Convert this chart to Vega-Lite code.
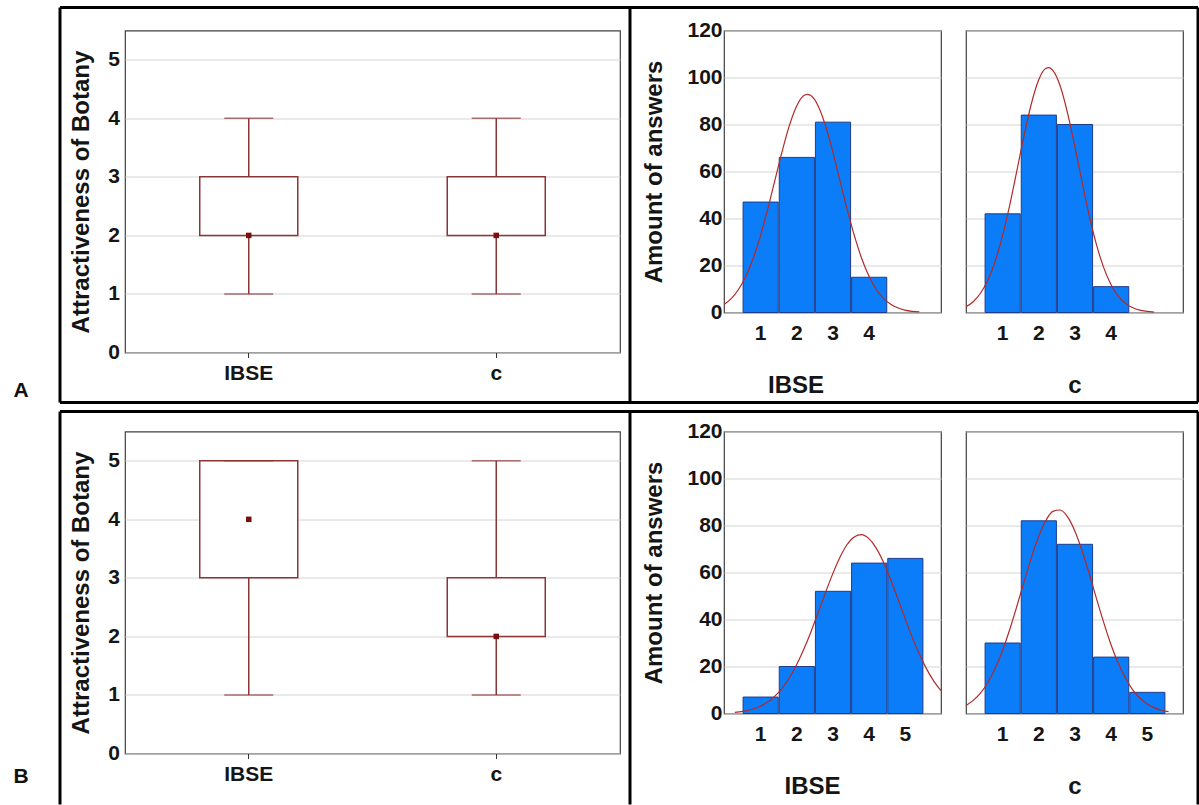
{
  "$schema": "https://vega.github.io/schema/vega-lite/v6.json",
  "autosize": {"type": "pad"},
  "padding": {"left": 12, "top": 4.5, "right": 0, "bottom": 0},
  "background": "white",
  "bounds": "full",
  "spacing": 3,
  "config": {
    "view": {"stroke": "#404040", "strokeWidth": 1.2},
    "axis": {"labelFont": "Liberation Sans", "titleFont": "Liberation Sans", "labelFontWeight": "bold", "titleFontWeight": "bold", "labelFontSize": 21, "titleFontSize": 24, "labelColor": "#151515", "titleColor": "#151515", "domain": false, "ticks": false, "gridColor": "#d4d4d4", "gridWidth": 1},
    "axisX": {"grid": false},
    "axisY": {"grid": true},
    "text": {"font": "Liberation Sans"}
  },
  "datasets": {
    "box": [
      {"row": "A", "group": "IBSE", "lo": 1, "q1": 2, "median": 2, "q3": 3, "hi": 4},
      {"row": "A", "group": "c", "lo": 1, "q1": 2, "median": 2, "q3": 3, "hi": 4},
      {"row": "B", "group": "IBSE", "lo": 1, "q1": 3, "median": 4, "q3": 5, "hi": 5},
      {"row": "B", "group": "c", "lo": 1, "q1": 2, "median": 2, "q3": 3, "hi": 5}
    ],
    "bars": [
      {"row": "A", "group": "IBSE", "bin_start": 0.5, "bin_end": 1.5, "count": 47},
      {"row": "A", "group": "IBSE", "bin_start": 1.5, "bin_end": 2.5, "count": 66},
      {"row": "A", "group": "IBSE", "bin_start": 2.5, "bin_end": 3.5, "count": 81},
      {"row": "A", "group": "IBSE", "bin_start": 3.5, "bin_end": 4.5, "count": 15},
      {"row": "A", "group": "c", "bin_start": 0.5, "bin_end": 1.5, "count": 42},
      {"row": "A", "group": "c", "bin_start": 1.5, "bin_end": 2.5, "count": 84},
      {"row": "A", "group": "c", "bin_start": 2.5, "bin_end": 3.5, "count": 80},
      {"row": "A", "group": "c", "bin_start": 3.5, "bin_end": 4.5, "count": 11},
      {"row": "B", "group": "IBSE", "bin_start": 0.5, "bin_end": 1.5, "count": 7},
      {"row": "B", "group": "IBSE", "bin_start": 1.5, "bin_end": 2.5, "count": 20},
      {"row": "B", "group": "IBSE", "bin_start": 2.5, "bin_end": 3.5, "count": 52},
      {"row": "B", "group": "IBSE", "bin_start": 3.5, "bin_end": 4.5, "count": 64},
      {"row": "B", "group": "IBSE", "bin_start": 4.5, "bin_end": 5.5, "count": 66},
      {"row": "B", "group": "c", "bin_start": 0.5, "bin_end": 1.5, "count": 30},
      {"row": "B", "group": "c", "bin_start": 1.5, "bin_end": 2.5, "count": 82},
      {"row": "B", "group": "c", "bin_start": 2.5, "bin_end": 3.5, "count": 72},
      {"row": "B", "group": "c", "bin_start": 3.5, "bin_end": 4.5, "count": 24},
      {"row": "B", "group": "c", "bin_start": 4.5, "bin_end": 5.5, "count": 9}
    ],
    "curve": [
      {"row": "A", "group": "IBSE", "x": 0, "y": 3.4}, {"row": "A", "group": "IBSE", "x": 0.2, "y": 5.9}, {"row": "A", "group": "IBSE", "x": 0.4, "y": 9.8}, {"row": "A", "group": "IBSE", "x": 0.6, "y": 15.3}, {"row": "A", "group": "IBSE", "x": 0.8, "y": 22.8}, {"row": "A", "group": "IBSE", "x": 1, "y": 32.2}, {"row": "A", "group": "IBSE", "x": 1.2, "y": 43.5}, {"row": "A", "group": "IBSE", "x": 1.4, "y": 55.8}, {"row": "A", "group": "IBSE", "x": 1.6, "y": 68.1}, {"row": "A", "group": "IBSE", "x": 1.8, "y": 79.2}, {"row": "A", "group": "IBSE", "x": 2, "y": 87.6}, {"row": "A", "group": "IBSE", "x": 2.2, "y": 92.2}, {"row": "A", "group": "IBSE", "x": 2.3, "y": 92.8}, {"row": "A", "group": "IBSE", "x": 2.4, "y": 92.3}, {"row": "A", "group": "IBSE", "x": 2.6, "y": 88.0}, {"row": "A", "group": "IBSE", "x": 2.8, "y": 79.8}, {"row": "A", "group": "IBSE", "x": 3, "y": 68.9}, {"row": "A", "group": "IBSE", "x": 3.2, "y": 56.5}, {"row": "A", "group": "IBSE", "x": 3.4, "y": 44.2}, {"row": "A", "group": "IBSE", "x": 3.6, "y": 32.9}, {"row": "A", "group": "IBSE", "x": 3.8, "y": 23.3}, {"row": "A", "group": "IBSE", "x": 4, "y": 15.7}, {"row": "A", "group": "IBSE", "x": 4.2, "y": 10.0}, {"row": "A", "group": "IBSE", "x": 4.4, "y": 6.1}, {"row": "A", "group": "IBSE", "x": 4.6, "y": 3.6}, {"row": "A", "group": "IBSE", "x": 4.8, "y": 2.0}, {"row": "A", "group": "IBSE", "x": 5, "y": 1.0}, {"row": "A", "group": "IBSE", "x": 5.2, "y": 0.5}, {"row": "A", "group": "IBSE", "x": 5.4, "y": 0.3},
      {"row": "A", "group": "c", "x": 0, "y": 2.5}, {"row": "A", "group": "c", "x": 0.2, "y": 4.6}, {"row": "A", "group": "c", "x": 0.4, "y": 8.2}, {"row": "A", "group": "c", "x": 0.6, "y": 13.6}, {"row": "A", "group": "c", "x": 0.8, "y": 21.5}, {"row": "A", "group": "c", "x": 1, "y": 32.1}, {"row": "A", "group": "c", "x": 1.2, "y": 45.1}, {"row": "A", "group": "c", "x": 1.4, "y": 59.8}, {"row": "A", "group": "c", "x": 1.6, "y": 74.9}, {"row": "A", "group": "c", "x": 1.8, "y": 88.4}, {"row": "A", "group": "c", "x": 2, "y": 98.6}, {"row": "A", "group": "c", "x": 2.2, "y": 103.8}, {"row": "A", "group": "c", "x": 2.3, "y": 104.2}, {"row": "A", "group": "c", "x": 2.4, "y": 103.0}, {"row": "A", "group": "c", "x": 2.6, "y": 96.6}, {"row": "A", "group": "c", "x": 2.8, "y": 85.4}, {"row": "A", "group": "c", "x": 3, "y": 71.3}, {"row": "A", "group": "c", "x": 3.2, "y": 56.2}, {"row": "A", "group": "c", "x": 3.4, "y": 41.7}, {"row": "A", "group": "c", "x": 3.6, "y": 29.3}, {"row": "A", "group": "c", "x": 3.8, "y": 19.4}, {"row": "A", "group": "c", "x": 4, "y": 12.1}, {"row": "A", "group": "c", "x": 4.2, "y": 7.1}, {"row": "A", "group": "c", "x": 4.4, "y": 4.0}, {"row": "A", "group": "c", "x": 4.6, "y": 2.1}, {"row": "A", "group": "c", "x": 4.8, "y": 1.0}, {"row": "A", "group": "c", "x": 5, "y": 0.5}, {"row": "A", "group": "c", "x": 5.2, "y": 0.2},
      {"row": "B", "group": "IBSE", "x": 0.3, "y": 0.5}, {"row": "B", "group": "IBSE", "x": 0.6, "y": 1.1}, {"row": "B", "group": "IBSE", "x": 0.8, "y": 1.9}, {"row": "B", "group": "IBSE", "x": 1, "y": 3.1}, {"row": "B", "group": "IBSE", "x": 1.2, "y": 4.8}, {"row": "B", "group": "IBSE", "x": 1.4, "y": 7.3}, {"row": "B", "group": "IBSE", "x": 1.6, "y": 10.6}, {"row": "B", "group": "IBSE", "x": 1.8, "y": 15.0}, {"row": "B", "group": "IBSE", "x": 2, "y": 20.5}, {"row": "B", "group": "IBSE", "x": 2.2, "y": 27.1}, {"row": "B", "group": "IBSE", "x": 2.4, "y": 34.6}, {"row": "B", "group": "IBSE", "x": 2.6, "y": 42.8}, {"row": "B", "group": "IBSE", "x": 2.8, "y": 51.2}, {"row": "B", "group": "IBSE", "x": 3, "y": 59.2}, {"row": "B", "group": "IBSE", "x": 3.2, "y": 66.3}, {"row": "B", "group": "IBSE", "x": 3.4, "y": 71.8}, {"row": "B", "group": "IBSE", "x": 3.6, "y": 75.1}, {"row": "B", "group": "IBSE", "x": 3.8, "y": 76.1}, {"row": "B", "group": "IBSE", "x": 4, "y": 74.5}, {"row": "B", "group": "IBSE", "x": 4.2, "y": 70.6}, {"row": "B", "group": "IBSE", "x": 4.4, "y": 64.7}, {"row": "B", "group": "IBSE", "x": 4.6, "y": 57.3}, {"row": "B", "group": "IBSE", "x": 4.8, "y": 49.1}, {"row": "B", "group": "IBSE", "x": 5, "y": 40.7}, {"row": "B", "group": "IBSE", "x": 5.2, "y": 32.6}, {"row": "B", "group": "IBSE", "x": 5.4, "y": 25.3}, {"row": "B", "group": "IBSE", "x": 5.6, "y": 19.0}, {"row": "B", "group": "IBSE", "x": 5.8, "y": 13.8}, {"row": "B", "group": "IBSE", "x": 6, "y": 9.7},
      {"row": "B", "group": "c", "x": 0, "y": 3.4}, {"row": "B", "group": "c", "x": 0.2, "y": 5.6}, {"row": "B", "group": "c", "x": 0.4, "y": 8.7}, {"row": "B", "group": "c", "x": 0.6, "y": 13.1}, {"row": "B", "group": "c", "x": 0.8, "y": 19.0}, {"row": "B", "group": "c", "x": 1, "y": 26.4}, {"row": "B", "group": "c", "x": 1.2, "y": 35.3}, {"row": "B", "group": "c", "x": 1.4, "y": 45.3}, {"row": "B", "group": "c", "x": 1.6, "y": 55.8}, {"row": "B", "group": "c", "x": 1.8, "y": 66.0}, {"row": "B", "group": "c", "x": 2, "y": 75.0}, {"row": "B", "group": "c", "x": 2.2, "y": 81.9}, {"row": "B", "group": "c", "x": 2.4, "y": 86.0}, {"row": "B", "group": "c", "x": 2.6, "y": 86.6}, {"row": "B", "group": "c", "x": 2.8, "y": 83.9}, {"row": "B", "group": "c", "x": 3, "y": 78.0}, {"row": "B", "group": "c", "x": 3.2, "y": 69.7}, {"row": "B", "group": "c", "x": 3.4, "y": 59.8}, {"row": "B", "group": "c", "x": 3.6, "y": 49.3}, {"row": "B", "group": "c", "x": 3.8, "y": 39.1}, {"row": "B", "group": "c", "x": 4, "y": 29.7}, {"row": "B", "group": "c", "x": 4.2, "y": 21.7}, {"row": "B", "group": "c", "x": 4.4, "y": 15.3}, {"row": "B", "group": "c", "x": 4.6, "y": 10.3}, {"row": "B", "group": "c", "x": 4.8, "y": 6.7}, {"row": "B", "group": "c", "x": 5, "y": 4.2}, {"row": "B", "group": "c", "x": 5.2, "y": 2.5}, {"row": "B", "group": "c", "x": 5.4, "y": 1.4}, {"row": "B", "group": "c", "x": 5.6, "y": 0.8}
    ]
  },
  "vconcat": [
    {
      "hconcat": [
        {
          "width": 495, "height": 322,
          "resolve": {"scale": {"x": "independent", "y": "independent"}},
          "layer": [
            {
              "data": {"name": "box"},
              "transform": [{"filter": "datum.row === 'A'"}],
              "encoding": {"x": {"field": "group", "type": "nominal", "sort": ["IBSE", "c"], "scale": {"type": "band", "paddingInner": 0.604, "paddingOuter": 0.302}, "axis": {"title": null, "labelAngle": 0, "ticks": true, "tickSize": 5, "tickColor": "#333", "labelPadding": 5}}},
              "layer": [
                {"mark": {"type": "rule", "color": "#8b3535", "strokeWidth": 1.5}, "encoding": {"y": {"field": "lo", "type": "quantitative", "scale": {"domain": [0, 5.5], "nice": false, "zero": false}, "axis": {"values": [0, 1, 2, 3, 4, 5], "format": "d", "title": "Attractiveness of Botany", "labelPadding": 5.5, "titlePadding": 14}}, "y2": {"field": "hi"}}},
                {"mark": {"type": "bar", "fill": "white", "stroke": "#8b3535", "strokeWidth": 1.5}, "encoding": {"y": {"field": "q1", "type": "quantitative"}, "y2": {"field": "q3"}}},
                {"mark": {"type": "tick", "color": "#8b3535", "size": 49, "thickness": 1.5}, "encoding": {"y": {"field": "lo", "type": "quantitative"}}},
                {"mark": {"type": "tick", "color": "#8b3535", "size": 49, "thickness": 1.5}, "encoding": {"y": {"field": "hi", "type": "quantitative"}}},
                {"mark": {"type": "point", "shape": "square", "filled": true, "color": "#7a0d0d", "size": 30, "opacity": 1}, "encoding": {"y": {"field": "median", "type": "quantitative"}}}
              ]
            },
            {
              "data": {"values": [{}]},
              "layer": [
                {"mark": {"type": "rule", "color": "black", "strokeWidth": 3}, "encoding": {"x": {"datum": -0.2626, "type": "quantitative", "scale": {"domain": [0, 2], "nice": false, "zero": false}, "axis": null}, "x2": {"datum": 4.3354}, "y": {"datum": 5.893, "type": "quantitative", "scale": {"domain": [0, 5.5], "nice": false, "zero": false}, "axis": null}}},
                {"mark": {"type": "rule", "color": "black", "strokeWidth": 3}, "encoding": {"x": {"datum": -0.2626, "type": "quantitative"}, "x2": {"datum": 4.3354}, "y": {"datum": -0.854, "type": "quantitative"}}},
                {"mark": {"type": "rule", "color": "black", "strokeWidth": 3}, "encoding": {"x": {"datum": -0.2626, "type": "quantitative"}, "y": {"datum": -0.854, "type": "quantitative"}, "y2": {"datum": 5.893}}},
                {"mark": {"type": "rule", "color": "black", "strokeWidth": 3}, "encoding": {"x": {"datum": 2.0404, "type": "quantitative"}, "y": {"datum": -0.854, "type": "quantitative"}, "y2": {"datum": 5.893}}},
                {"mark": {"type": "rule", "color": "black", "strokeWidth": 3}, "encoding": {"x": {"datum": 4.3354, "type": "quantitative"}, "y": {"datum": -0.854, "type": "quantitative"}, "y2": {"datum": 5.893}}},
                {"mark": {"type": "text", "fontSize": 21, "fontWeight": "bold", "color": "#111", "baseline": "middle", "align": "center"}, "encoding": {"x": {"datum": -0.42, "type": "quantitative"}, "y": {"datum": -0.666, "type": "quantitative"}, "text": {"value": "A"}}}
              ]
            }
          ]
        },
        {
          "hconcat": [
            {
              "width": 217, "height": 282,
              "layer": [
                {"data": {"name": "bars"}, "transform": [{"filter": "datum.row === 'A' && datum.group === 'IBSE'"}],
                 "mark": {"type": "bar", "fill": "#0b7df8", "stroke": "#203c8c", "strokeWidth": 1},
                 "encoding": {
                   "x": {"field": "bin_start", "type": "quantitative", "bin": "binned", "scale": {"domain": [0, 6], "nice": false, "zero": false}, "axis": {"values": [1, 2, 3, 4], "format": "d", "title": "IBSE", "labelPadding": 10, "titlePadding": 30, "titleX": 71.5}},
                   "x2": {"field": "bin_end"},
                   "y": {"field": "count", "type": "quantitative", "scale": {"domain": [0, 120], "nice": false}, "axis": {"values": [0, 20, 40, 60, 80, 100, 120], "title": "Amount of answers", "labelPadding": 2, "titlePadding": 20}}}},
                {"data": {"name": "curve"}, "transform": [{"filter": "datum.row === 'A' && datum.group === 'IBSE'"}],
                 "mark": {"type": "line", "color": "#b22a2a", "strokeWidth": 1.2, "interpolate": "monotone"},
                 "encoding": {"x": {"field": "x", "type": "quantitative", "title": "IBSE"}, "y": {"field": "y", "type": "quantitative", "title": "Amount of answers"}}}
              ]
            },
            {
              "width": 217, "height": 282,
              "layer": [
                {"data": {"name": "bars"}, "transform": [{"filter": "datum.row === 'A' && datum.group === 'c'"}],
                 "mark": {"type": "bar", "fill": "#0b7df8", "stroke": "#203c8c", "strokeWidth": 1},
                 "encoding": {
                   "x": {"field": "bin_start", "type": "quantitative", "bin": "binned", "scale": {"domain": [0, 6], "nice": false, "zero": false}, "axis": {"values": [1, 2, 3, 4], "format": "d", "title": "c", "labelPadding": 10, "titlePadding": 30}},
                   "x2": {"field": "bin_end"},
                   "y": {"field": "count", "type": "quantitative", "scale": {"domain": [0, 120], "nice": false}, "axis": {"values": [0, 20, 40, 60, 80, 100, 120], "labels": false, "title": null}}}},
                {"data": {"name": "curve"}, "transform": [{"filter": "datum.row === 'A' && datum.group === 'c'"}],
                 "mark": {"type": "line", "color": "#b22a2a", "strokeWidth": 1.2, "interpolate": "monotone"},
                 "encoding": {"x": {"field": "x", "type": "quantitative", "title": "c"}, "y": {"field": "y", "type": "quantitative", "title": null}}}
              ]
            }
          ],
          "spacing": 25,
          "bounds": "flush"
        }
      ],
      "spacing": 104,
      "bounds": "flush"
    },
    {
      "hconcat": [
        {
          "width": 495, "height": 322,
          "resolve": {"scale": {"x": "independent", "y": "independent"}},
          "layer": [
            {
              "data": {"name": "box"},
              "transform": [{"filter": "datum.row === 'B'"}],
              "encoding": {"x": {"field": "group", "type": "nominal", "sort": ["IBSE", "c"], "scale": {"type": "band", "paddingInner": 0.604, "paddingOuter": 0.302}, "axis": {"title": null, "labelAngle": 0, "ticks": true, "tickSize": 5, "tickColor": "#333", "labelPadding": 5}}},
              "layer": [
                {"mark": {"type": "rule", "color": "#8b3535", "strokeWidth": 1.5}, "encoding": {"y": {"field": "lo", "type": "quantitative", "scale": {"domain": [0, 5.5], "nice": false, "zero": false}, "axis": {"values": [0, 1, 2, 3, 4, 5], "format": "d", "title": "Attractiveness of Botany", "labelPadding": 5.5, "titlePadding": 14}}, "y2": {"field": "hi"}}},
                {"mark": {"type": "bar", "fill": "white", "stroke": "#8b3535", "strokeWidth": 1.5}, "encoding": {"y": {"field": "q1", "type": "quantitative"}, "y2": {"field": "q3"}}},
                {"mark": {"type": "tick", "color": "#8b3535", "size": 49, "thickness": 1.5}, "encoding": {"y": {"field": "lo", "type": "quantitative"}}},
                {"mark": {"type": "tick", "color": "#8b3535", "size": 49, "thickness": 1.5}, "encoding": {"y": {"field": "hi", "type": "quantitative"}}},
                {"mark": {"type": "point", "shape": "square", "filled": true, "color": "#7a0d0d", "size": 30, "opacity": 1}, "encoding": {"y": {"field": "median", "type": "quantitative"}}}
              ]
            },
            {
              "data": {"values": [{}]},
              "layer": [
                {"mark": {"type": "rule", "color": "black", "strokeWidth": 3}, "encoding": {"x": {"datum": -0.2626, "type": "quantitative", "scale": {"domain": [0, 2], "nice": false, "zero": false}, "axis": null}, "x2": {"datum": 4.3354}, "y": {"datum": 5.842, "type": "quantitative", "scale": {"domain": [0, 5.5], "nice": false, "zero": false}, "axis": null}}},
                {"mark": {"type": "rule", "color": "black", "strokeWidth": 3}, "encoding": {"x": {"datum": -0.2626, "type": "quantitative"}, "y": {"datum": -0.871, "type": "quantitative"}, "y2": {"datum": 5.842}}},
                {"mark": {"type": "rule", "color": "black", "strokeWidth": 3}, "encoding": {"x": {"datum": 2.0404, "type": "quantitative"}, "y": {"datum": -0.871, "type": "quantitative"}, "y2": {"datum": 5.842}}},
                {"mark": {"type": "rule", "color": "black", "strokeWidth": 3}, "encoding": {"x": {"datum": 4.3354, "type": "quantitative"}, "y": {"datum": -0.871, "type": "quantitative"}, "y2": {"datum": 5.842}}},
                {"mark": {"type": "text", "fontSize": 21, "fontWeight": "bold", "color": "#111", "baseline": "middle", "align": "center"}, "encoding": {"x": {"datum": -0.42, "type": "quantitative"}, "y": {"datum": -0.393, "type": "quantitative"}, "text": {"value": "B"}}}
              ]
            }
          ]
        },
        {
          "hconcat": [
            {
              "width": 217, "height": 282,
              "layer": [
                {"data": {"name": "bars"}, "transform": [{"filter": "datum.row === 'B' && datum.group === 'IBSE'"}],
                 "mark": {"type": "bar", "fill": "#0b7df8", "stroke": "#203c8c", "strokeWidth": 1},
                 "encoding": {
                   "x": {"field": "bin_start", "type": "quantitative", "bin": "binned", "scale": {"domain": [0, 6], "nice": false, "zero": false}, "axis": {"values": [1, 2, 3, 4, 5], "format": "d", "title": "IBSE", "labelPadding": 10, "titlePadding": 30, "titleX": 88}},
                   "x2": {"field": "bin_end"},
                   "y": {"field": "count", "type": "quantitative", "scale": {"domain": [0, 120], "nice": false}, "axis": {"values": [0, 20, 40, 60, 80, 100, 120], "title": "Amount of answers", "labelPadding": 2, "titlePadding": 20}}}},
                {"data": {"name": "curve"}, "transform": [{"filter": "datum.row === 'B' && datum.group === 'IBSE'"}],
                 "mark": {"type": "line", "color": "#b22a2a", "strokeWidth": 1.2, "interpolate": "monotone"},
                 "encoding": {"x": {"field": "x", "type": "quantitative", "title": "IBSE"}, "y": {"field": "y", "type": "quantitative", "title": "Amount of answers"}}}
              ]
            },
            {
              "width": 217, "height": 282,
              "layer": [
                {"data": {"name": "bars"}, "transform": [{"filter": "datum.row === 'B' && datum.group === 'c'"}],
                 "mark": {"type": "bar", "fill": "#0b7df8", "stroke": "#203c8c", "strokeWidth": 1},
                 "encoding": {
                   "x": {"field": "bin_start", "type": "quantitative", "bin": "binned", "scale": {"domain": [0, 6], "nice": false, "zero": false}, "axis": {"values": [1, 2, 3, 4, 5], "format": "d", "title": "c", "labelPadding": 10, "titlePadding": 30}},
                   "x2": {"field": "bin_end"},
                   "y": {"field": "count", "type": "quantitative", "scale": {"domain": [0, 120], "nice": false}, "axis": {"values": [0, 20, 40, 60, 80, 100, 120], "labels": false, "title": null}}}},
                {"data": {"name": "curve"}, "transform": [{"filter": "datum.row === 'B' && datum.group === 'c'"}],
                 "mark": {"type": "line", "color": "#b22a2a", "strokeWidth": 1.2, "interpolate": "monotone"},
                 "encoding": {"x": {"field": "x", "type": "quantitative", "title": "c"}, "y": {"field": "y", "type": "quantitative", "title": null}}}
              ]
            }
          ],
          "spacing": 25,
          "bounds": "flush"
        }
      ],
      "spacing": 104,
      "bounds": "flush"
    }
  ]
}
